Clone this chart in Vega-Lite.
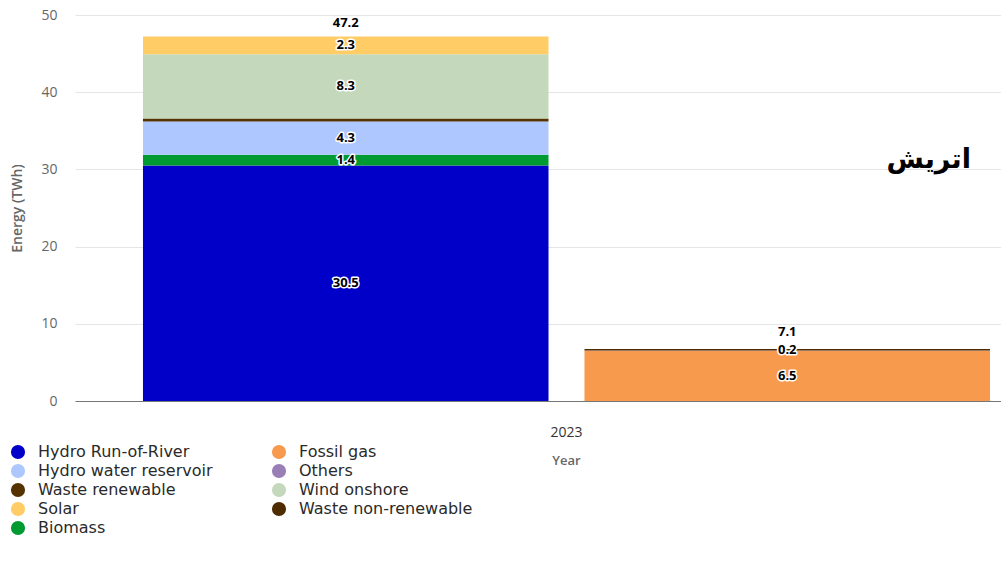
{
  "$schema": "https://vega.github.io/schema/vega-lite/v6.json",
  "width": 926,
  "height": 386,
  "autosize": {"type": "none"},
  "padding": {"left": 75, "top": 15, "right": 0, "bottom": 174},
  "background": "white",
  "title": {
    "text": "اتریش",
    "anchor": "end",
    "frame": "group",
    "orient": "top",
    "offset": 0,
    "baseline": "middle",
    "dx": -30,
    "dy": 179,
    "font": "DejaVu Sans",
    "fontSize": 27,
    "fontWeight": "bold",
    "color": "#000000"
  },
  "datasets": {
    "energy": [
      {"year": "2023", "group": "Renewable", "source": "Hydro Run-of-River", "value": 30.5},
      {"year": "2023", "group": "Renewable", "source": "Biomass", "value": 1.4},
      {"year": "2023", "group": "Renewable", "source": "Hydro water reservoir", "value": 4.3},
      {"year": "2023", "group": "Renewable", "source": "Waste renewable", "value": 0.4},
      {"year": "2023", "group": "Renewable", "source": "Wind onshore", "value": 8.3},
      {"year": "2023", "group": "Renewable", "source": "Solar", "value": 2.3},
      {"year": "2023", "group": "Non-renewable", "source": "Fossil gas", "value": 6.5},
      {"year": "2023", "group": "Non-renewable", "source": "Others", "value": 0.05},
      {"year": "2023", "group": "Non-renewable", "source": "Waste non-renewable", "value": 0.2}
    ],
    "totals": [
      {"year": "2023", "group": "Renewable", "total": 47.2},
      {"year": "2023", "group": "Non-renewable", "total": 7.1}
    ]
  },
  "encoding": {
    "x": {
      "field": "year",
      "type": "nominal",
      "scale": {"paddingInner": 0, "paddingOuter": 0.0466, "align": 0.861},
      "axis": {
        "title": "Year",
        "titleX": 491,
        "labelAngle": 0,
        "labelFont": "Open Sans",
        "labelFontSize": 14,
        "labelColor": "#333333",
        "labelPadding": 24,
        "ticks": false,
        "domainColor": "#777777",
        "domainWidth": 1,
        "titleFont": "Open Sans",
        "titleFontSize": 13,
        "titleFontWeight": 600,
        "titleColor": "#666666",
        "titlePadding": 15
      }
    },
    "xOffset": {
      "field": "group",
      "type": "nominal",
      "sort": ["Renewable", "Non-renewable"],
      "scale": {"paddingInner": 0.0815, "paddingOuter": 0}
    }
  },
  "layer": [
    {
      "data": {"name": "energy"},
      "transform": [
        {"calculate": "indexof(['Hydro Run-of-River','Biomass','Hydro water reservoir','Waste renewable','Wind onshore','Solar','Fossil gas','Others','Waste non-renewable'], datum.source)", "as": "ord"}
      ],
      "mark": {"type": "bar"},
      "encoding": {
        "y": {
          "field": "value",
          "type": "quantitative",
          "stack": "zero",
          "title": "Energy (TWh)",
          "scale": {"domain": [0, 50], "nice": false},
          "axis": {
            "values": [0, 10, 20, 30, 40, 50],
            "labelFont": "Open Sans",
            "labelFontSize": 14,
            "labelColor": "#666666",
            "labelPadding": 18,
            "ticks": false,
            "domain": false,
            "gridColor": "#e6e6e6",
            "titleFont": "Open Sans",
            "titleFontSize": 14,
            "titleFontWeight": 600,
            "titleColor": "#666666",
            "titlePadding": 16
          }
        },
        "color": {
          "field": "source",
          "type": "nominal",
          "scale": {
            "domain": ["Hydro Run-of-River", "Hydro water reservoir", "Waste renewable", "Solar", "Biomass", "Fossil gas", "Others", "Wind onshore", "Waste non-renewable"],
            "range": ["#0000c8", "#aec8ff", "#553300", "#ffcc66", "#009a32", "#f89a4d", "#9a7fb6", "#c4d9bb", "#4d2d00"]
          },
          "legend": {
            "title": null,
            "orient": "none",
            "legendX": -65,
            "legendY": 429,
            "direction": "vertical",
            "columns": 2,
            "columnPadding": 58,
            "rowPadding": 3,
            "symbolType": "circle",
            "symbolSize": 200,
            "symbolStrokeWidth": 0,
            "labelFont": "DejaVu Sans",
            "labelFontSize": 16,
            "labelColor": "#2a2a2a",
            "labelOffset": 12,
            "labelLimit": 300
          }
        },
        "order": {"field": "ord", "type": "quantitative"}
      }
    },
    {
      "data": {"name": "energy"},
      "transform": [
        {"calculate": "indexof(['Hydro Run-of-River','Biomass','Hydro water reservoir','Waste renewable','Wind onshore','Solar','Fossil gas','Others','Waste non-renewable'], datum.source)", "as": "ord"},
        {"stack": "value", "groupby": ["year", "group"], "sort": [{"field": "ord", "order": "ascending"}], "as": ["v0", "v1"]},
        {"calculate": "(datum.v0 + datum.v1) / 2", "as": "mid"},
        {"filter": "datum.value >= 1 || datum.source === 'Waste non-renewable'"}
      ],
      "mark": {"type": "text", "font": "Open Sans", "fontSize": 13, "fontWeight": "bold", "fill": "white", "stroke": "white", "strokeWidth": 3, "strokeJoin": "round", "baseline": "middle"},
      "encoding": {
        "y": {"field": "mid", "type": "quantitative", "title": "Energy (TWh)"},
        "text": {"field": "value", "type": "quantitative", "format": ".1f"}
      }
    },
    {
      "data": {"name": "energy"},
      "transform": [
        {"calculate": "indexof(['Hydro Run-of-River','Biomass','Hydro water reservoir','Waste renewable','Wind onshore','Solar','Fossil gas','Others','Waste non-renewable'], datum.source)", "as": "ord"},
        {"stack": "value", "groupby": ["year", "group"], "sort": [{"field": "ord", "order": "ascending"}], "as": ["v0", "v1"]},
        {"calculate": "(datum.v0 + datum.v1) / 2", "as": "mid"},
        {"filter": "datum.value >= 1 || datum.source === 'Waste non-renewable'"}
      ],
      "mark": {"type": "text", "font": "Open Sans", "fontSize": 13, "fontWeight": "bold", "fill": "#000000", "baseline": "middle"},
      "encoding": {
        "y": {"field": "mid", "type": "quantitative", "title": "Energy (TWh)"},
        "text": {"field": "value", "type": "quantitative", "format": ".1f"}
      }
    },
    {
      "data": {"name": "totals"},
      "mark": {"type": "text", "font": "Open Sans", "fontSize": 13, "fontWeight": "bold", "fill": "#000000", "baseline": "middle", "dy": -14},
      "encoding": {
        "y": {"field": "total", "type": "quantitative", "title": "Energy (TWh)"},
        "text": {"field": "total", "type": "quantitative", "format": ".1f"}
      }
    }
  ],
  "config": {
    "view": {"stroke": null}
  }
}
